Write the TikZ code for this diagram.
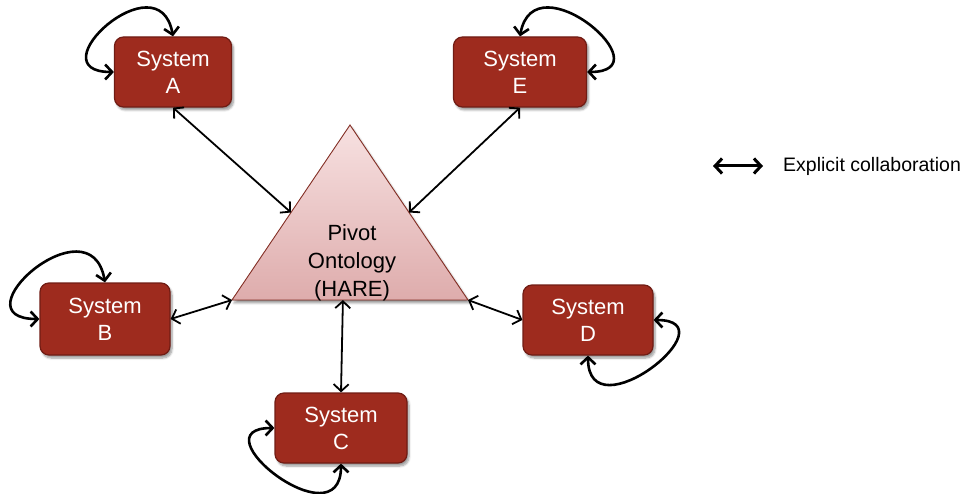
\documentclass[tikz,border=0pt]{standalone}
\usepackage{fontspec}
\setmainfont{Liberation Sans}
\usetikzlibrary{calc,arrows.meta,shadows.blur}
\definecolor{sysred}{RGB}{158,43,30}
\definecolor{sysedge}{RGB}{112,28,20}
\definecolor{pivtop}{RGB}{247,225,225}
\definecolor{pivbot}{RGB}{222,172,172}
\definecolor{pivedge}{RGB}{135,50,40}

\begin{document}
\begin{tikzpicture}[
  x=1pt, y=1pt,
  sys/.style={draw=sysedge, line width=1.2pt, fill=sysred, rounded corners=9pt, text=white, align=center,
    minimum width=130pt, minimum height=70pt, inner sep=0pt, font=\fontsize{22}{27}\selectfont,
    blur shadow={shadow xshift=2pt, shadow yshift=-3pt, shadow blur steps=6}},
  pivot/.style={draw=pivedge, line width=0.9pt, top color=pivtop, bottom color=pivbot,
    blur shadow={shadow xshift=2pt, shadow yshift=-3pt, shadow blur steps=6}},
  collab/.style={{Straight Barb[length=7pt,width=15pt]}-{Straight Barb[length=7pt,width=15pt]}, line width=1.8pt},
  self/.style={{Straight Barb[length=7pt,width=15pt]}-{Straight Barb[length=7pt,width=15pt]}, line width=2.6pt, distance=80pt}
]
\useasboundingbox (0,0) rectangle (965,493);

\coordinate (apex) at (350,368);
\coordinate (bl) at (232,193);
\coordinate (br) at (468,193);
\filldraw[pivot] (bl) -- (apex) -- (br) -- cycle;
\coordinate (tl) at ($(bl)!0.5!(apex)$);
\coordinate (tr) at ($(br)!0.5!(apex)$);
\coordinate (bc) at ($(bl)!0.47!(br)$);
\node[align=center, font=\fontsize{22}{28}\selectfont] (hare) at (352,230) {Pivot\\Ontology\\(HARE)};

\node[sys, minimum width=117pt] (sysA) at (173,421) {System\\A};
\node[sys, minimum width=133pt] (sysE) at (520,421) {System\\E};
\node[sys, minimum height=72pt] (sysB) at (105,174) {System\\B};
\node[sys] (sysD) at (588,173) {System\\D};
\node[sys, minimum width=132pt] (sysC) at (341,65) {System\\C};

\draw[collab] (sysA.south) -- (tl);
\draw[collab] (sysE.south) -- (tr);
\draw[collab] (sysB.east) -- (bl);
\draw[collab] (br) -- (sysD.west);
\draw[collab] (sysC.north) -- (bc);

\draw[self] (sysA.north) to[out=100, in=180] (sysA.west);
\draw[self] (sysE.north) to[out=80, in=0] (sysE.east);
\draw[self] (sysB.north) to[out=100, in=180, distance=85pt] (sysB.west);
\draw[self] (sysD.east) to[out=0, in=270] (sysD.south);
\draw[self] (sysC.west) to[out=180, in=270] (sysC.south);

\coordinate (legL) at (713,327);
\coordinate (legR) at (763,327);
\draw[collab, line width=3pt] (legL) -- (legR);
\node[anchor=base west, inner sep=0pt, font=\fontsize{19.5}{24}\selectfont] (legtext) at (783,321) {Explicit collaboration};
\end{tikzpicture}
\end{document}
